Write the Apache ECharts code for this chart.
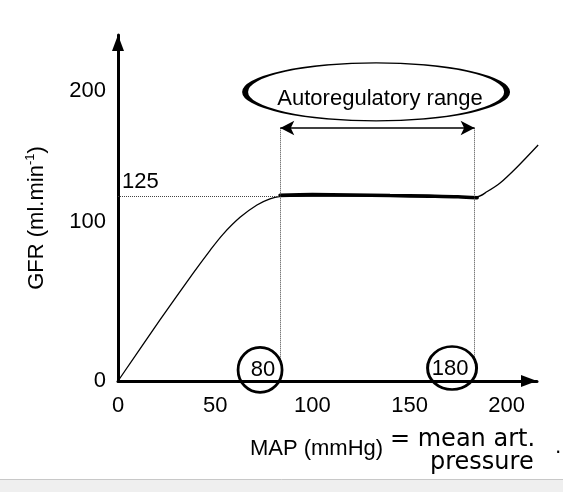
<!DOCTYPE html>
<html><head><meta charset="utf-8">
<script src="https://cdn.jsdelivr.net/npm/echarts@6.0.0/dist/echarts.min.js"></script>
<style>html,body{margin:0;padding:0;background:#fff}#c{width:563px;height:492px}</style>
</head><body><div id="c"></div>
<script>
// thin GFR curve (MAP in mmHg, GFR in ml/min)
const curveMAP = [0, 21.6, 38.6, 47.3, 54.0, 62.8, 71.5, 78.2, 83.0, 100, 130, 160, 184.8, 190, 196.6, 205.4, 216.2];
const curveGFR = [0, 41.4, 73.0, 88.5, 99.5, 111.0, 119.4, 123.5, 125.0, 125.4, 125.5, 125.3, 125.0, 128.5, 134.3, 145.2, 160.1];
// hand-drawn thick plateau
const plateauMAP = [83.4, 100, 120, 140, 160, 175, 184.8];
const plateauGFR = [126.0, 126.4, 126.2, 125.8, 125.4, 125.0, 124.3];
const plateauLevel = 125;
const plateauLabel = '125';
const rangeBounds = [83.5, 183.5];
const rangeLabels = ['80', '180'];
const rangeArrowGFR = 171.6;
const dottedBottomGFR = 12;
const rangeTitle = 'Autoregulatory range';
const rangeTitlePos = [132.8, 196.1];
const circledPos = [[73.1, 7.5], [171.9, 8.8]];
const xTickStep = 50, yTickStep = 100;
const xMax = 215.6, yMax = 234.7;

const FONT = 'Liberation Sans';
const ellipsePath = 'path://M0,50A100,50,0,1,1,200,50A100,50,0,1,1,0,50Z';

const chart = echarts.init(document.getElementById('c'), null, {renderer: 'canvas'});
const option = {
  backgroundColor: '#fff',
  animation: false,
  grid: {left: 118, right: 26, top: 35, bottom: 111, containLabel: false, outerBoundsMode: 'none'},
  xAxis: {
    type: 'value', min: 0, max: xMax, interval: xTickStep,
    axisLine: {show: true, symbol: ['none', 'triangle'], symbolSize: [12, 16], symbolOffset: [0, -8],
      lineStyle: {color: '#000', width: 3}},
    axisTick: {show: false}, splitLine: {show: false},
    axisLabel: {color: '#000', fontSize: 22, fontFamily: FONT, margin: 14, showMaxLabel: false,
      formatter: v => (v % xTickStep === 0 ? String(v) : '')},
    name: 'MAP (mmHg)', nameLocation: 'middle', nameGap: 55,
    nameTextStyle: {color: '#000', fontSize: 22, fontFamily: FONT, lineHeight: 26, padding: [0, 22, 0, 0]}
  },
  yAxis: {
    type: 'value', min: 0, max: yMax, interval: yTickStep,
    axisLine: {show: true, symbol: ['none', 'triangle'], symbolSize: [12, 16], symbolOffset: [0, -8],
      lineStyle: {color: '#000', width: 3}},
    axisTick: {show: false}, splitLine: {show: false},
    axisLabel: {color: '#000', fontSize: 22, fontFamily: FONT, margin: 12, showMaxLabel: false,
      formatter: v => v === 100 ? '{up|100}' : v === 200 ? '{dn|200}' : (v % yTickStep === 0 ? String(v) : ''),
      rich: {
        up: {color: '#000', fontSize: 22, fontFamily: FONT, padding: [0, 0, 24, 0]},
        dn: {color: '#000', fontSize: 22, fontFamily: FONT, padding: [10, 0, 0, 0]}
      }},
    name: '{a|GFR (ml.min}{s|-1}{a|)}', nameLocation: 'middle', nameRotate: 90, nameGap: 68,
    nameTextStyle: {padding: [0, 20, 0, 0], rich: {
      a: {color: '#000', fontSize: 22, fontFamily: FONT, lineHeight: 26},
      s: {color: '#000', fontSize: 13, fontFamily: FONT, lineHeight: 26, verticalAlign: 'top', padding: [0, 0, 10, 0]}
    }}
  },
  series: [
    {
      type: 'line', name: 'curve', silent: true, z: 2,
      data: curveMAP.map((x, i) => [x, curveGFR[i]]),
      smooth: 0.3, symbol: 'none', showSymbol: false, clip: false,
      lineStyle: {color: '#000', width: 1.3},
      markLine: {
        silent: true, animation: false, symbol: ['none', 'none'],
        label: {show: false},
        data: [
          [{coord: [0, plateauLevel], lineStyle: {type: 'dotted', color: '#444', width: 1},
            label: {show: true, formatter: plateauLabel, position: 'insideStartTop', distance: 4,
              color: '#000', fontSize: 22, fontFamily: FONT}},
           {coord: [rangeBounds[0], plateauLevel]}],
          [{coord: [rangeBounds[0], dottedBottomGFR], lineStyle: {type: 'dotted', color: '#444', width: 1}},
           {coord: [rangeBounds[0], rangeArrowGFR]}],
          [{coord: [rangeBounds[1], dottedBottomGFR], lineStyle: {type: 'dotted', color: '#444', width: 1}},
           {coord: [rangeBounds[1], rangeArrowGFR]}],
          [{coord: [rangeBounds[0], rangeArrowGFR], symbol: 'arrow', symbolSize: [11, 14],
            lineStyle: {type: 'solid', color: '#000', width: 1.5}},
           {coord: [rangeBounds[1], rangeArrowGFR], symbol: 'arrow', symbolSize: [11, 14]}]
        ]
      },
      markPoint: {
        silent: true, animation: false,
        itemStyle: {color: 'rgba(0,0,0,0)', borderColor: '#000', borderWidth: 2.8},
        label: {show: true, position: 'inside', color: '#000', fontSize: 22, fontFamily: FONT},
        data: [
          {coord: circledPos[0], symbol: ellipsePath, symbolSize: [44, 45], label: {formatter: rangeLabels[0], offset: [3, 0]}},
          {coord: circledPos[1], symbol: ellipsePath, symbolSize: [49, 43], label: {formatter: rangeLabels[1], offset: [-2, 1]}},
          {coord: rangeTitlePos, symbol: ellipsePath, symbolSize: [262, 58], label: {formatter: rangeTitle, offset: [4, 7]}}
        ]
      }
    },
    {
      type: 'line', name: 'plateau', silent: true, z: 3,
      data: plateauMAP.map((x, i) => [x, plateauGFR[i]]),
      smooth: 0.3, symbol: 'none', showSymbol: false,
      lineStyle: {color: '#000', width: 3.6, cap: 'round'}
    }
  ],
  graphic: [
    {type: 'rect', silent: true, shape: {x: 0, y: 479, width: 563, height: 13}, style: {fill: '#efefef'}},
    {type: 'line', silent: true, shape: {x1: 0, y1: 479.5, x2: 563, y2: 479.5}, style: {stroke: '#c8c8c8', lineWidth: 1}},
    {type: 'text', silent: true, x: 390, y: 440, style: {text: '= mean art.', font: '24px "DejaVu Sans"', fill: '#000', verticalAlign: 'middle'}},
    {type: 'text', silent: true, x: 430, y: 463, style: {text: 'pressure', font: '24px "DejaVu Sans"', fill: '#000', verticalAlign: 'middle'}},
    {type: 'text', silent: true, x: 555, y: 448, style: {text: '.', font: '20px "DejaVu Sans"', fill: '#000', verticalAlign: 'middle'}}
  ]
};
chart.setOption(option);
</script>
</body></html>
